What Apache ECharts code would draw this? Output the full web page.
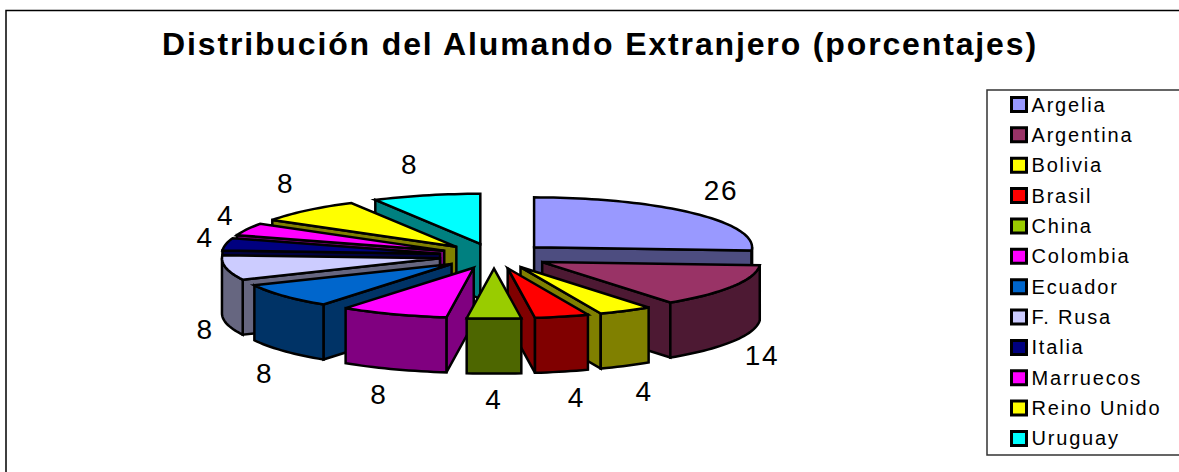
<!DOCTYPE html>
<html>
<head>
<meta charset="utf-8">
<style>
html, body { margin: 0; padding: 0; background: #fff; }
#main { width: 1179px; height: 472px; }
#main text { letter-spacing: 1.8px; }
#main text[style*="bold"] { letter-spacing: 1.86px; }
</style>
<script src="https://cdn.jsdelivr.net/npm/echarts@6/dist/echarts.min.js"></script>
</head>
<body>
<div id="main"></div>
<script>
const countries = ['Argelia', 'Argentina', 'Bolivia', 'Brasil', 'China', 'Colombia', 'Ecuador', 'F. Rusa', 'Italia', 'Marruecos', 'Reino Unido', 'Uruguay'];
const percentages = [26, 14, 4, 4, 4, 8, 8, 8, 4, 4, 8, 8];
const topColors = ['#9999FF', '#993366', '#FFFF00', '#FF0000', '#99CC00', '#FF00FF', '#0066CC', '#CCCCFF', '#000080', '#FF00FF', '#FFFF00', '#00FFFF'];
const sideColors = ['#4D4D80', '#4D1933', '#808000', '#800000', '#4D6600', '#800080', '#003366', '#666680', '#000040', '#800080', '#808000', '#008080'];
// hand nudges so the value labels land where Excel put them
const labelNudges = [[15, -10], [13, 6], [10, 10], [10, 8], [0, 8], [-8, 9], [-5, 11], [-3, 3], [-3, -3], [-5, -6], [-9, -14], [-12, -13]];

// fake 3D projection of the exploded pie
const pie = { cx: 494, cy: 256, rx: 218, ry: 50, depth: 55, explode: 55 };
const total = percentages.reduce((a, b) => a + b, 0);

let acc = 0;
const slices = percentages.map(v => {
    const start = acc / total * Math.PI * 2;
    acc += v;
    const end = acc / total * Math.PI * 2;
    return { start, end, mid: (start + end) / 2 };
});

function apexOf(s) {
    return [
        pie.cx + pie.explode * Math.sin(s.mid),
        pie.cy - pie.explode * pie.ry / pie.rx * Math.cos(s.mid)
    ];
}

function rimPoints(apex, from, to) {
    const pts = [];
    const n = Math.max(2, Math.ceil((to - from) / 0.03));
    for (let i = 0; i <= n; i++) {
        const a = from + (to - from) * i / n;
        pts.push([apex[0] + pie.rx * Math.sin(a), apex[1] - pie.ry * Math.cos(a)]);
    }
    return pts;
}

function lowered(pts) {
    return pts.map(p => [p[0], p[1] + pie.depth]).reverse();
}

function makeRenderItem(i) {
    const s = slices[i];
    const apex = apexOf(s);
    return function () {
        const rim = rimPoints(apex, s.start, s.end);
        const lineStyle = { stroke: '#000', lineWidth: 2.5, lineJoin: 'miter' };
        const poly = (points, fill) => ({
            type: 'polygon',
            shape: { points },
            style: Object.assign({ fill }, lineStyle)
        });
        const children = [];

        // radial cut faces, only those turned to the viewer
        const eps = 1e-6;
        if (Math.sin(s.start) < -eps) {
            const edge = [apex, rim[0]];
            children.push(poly(edge.concat(lowered(edge)), sideColors[i]));
        }
        if (Math.sin(s.end) > eps) {
            const edge = [apex, rim[rim.length - 1]];
            children.push(poly(edge.concat(lowered(edge)), sideColors[i]));
        }

        // rim wall, only the part that faces the viewer
        const from = Math.max(s.start, Math.PI / 2);
        const to = Math.min(s.end, Math.PI * 1.5);
        if (to > from) {
            const wall = rimPoints(apex, from, to);
            children.push(poly(wall.concat(lowered(wall)), sideColors[i]));
        }

        children.push(poly([apex].concat(rim), topColors[i]));

        const front = Math.cos(s.mid) < 0;
        children.push({
            type: 'text',
            z2: 100,
            style: {
                x: apex[0] + (pie.rx + 18) * Math.sin(s.mid) + labelNudges[i][0],
                y: apex[1] - (pie.ry + 18) * Math.cos(s.mid) + (front ? pie.depth : 0) + labelNudges[i][1],
                text: String(percentages[i]),
                fill: '#000',
                font: '28px "Liberation Sans", Arial, sans-serif',
                align: 'center',
                verticalAlign: 'middle'
            }
        });
        return { type: 'group', children };
    };
}

// back slices get painted first
const drawOrder = slices.map((s, i) => i).sort((a, b) => Math.cos(slices[b].mid) - Math.cos(slices[a].mid));

const series = countries.map((name, i) => ({
    type: 'custom',
    name: name,
    coordinateSystem: 'none',
    silent: true,
    z: 2 + drawOrder.indexOf(i),
    itemStyle: { color: topColors[i] },
    renderItem: makeRenderItem(i),
    data: [percentages[i]]
}));

const chart = echarts.init(document.getElementById('main'), null, { renderer: 'svg' });
chart.setOption({
    animation: false,
    backgroundColor: '#fff',
    title: {
        text: 'Distribución del Alumando Extranjero (porcentajes)',
        left: 162,
        top: 28,
        padding: 0,
        textStyle: {
            fontFamily: '"Liberation Sans", Arial, sans-serif',
            fontWeight: 'bold',
            fontSize: 32,
            color: '#000'
        }
    },
    legend: {
        data: countries,
        orient: 'vertical',
        left: 1010,
        top: 93,
        padding: 0,
        icon: 'rect',
        itemWidth: 15,
        itemHeight: 14,
        itemGap: 7.36,
        selectedMode: false,
        itemStyle: { borderColor: '#000', borderWidth: 3 },
        textStyle: {
            fontFamily: '"Liberation Sans", Arial, sans-serif',
            fontSize: 20,
            color: '#000',
            lineHeight: 23
        }
    },
    graphic: [
        {
            type: 'rect',
            silent: true,
            z: 0,
            shape: { x: 6, y: 10.5, width: 1300, height: 600 },
            style: { fill: 'none', stroke: '#000', lineWidth: 1.5 }
        },
        {
            type: 'rect',
            silent: true,
            z: 0,
            shape: { x: 987, y: 90, width: 300, height: 365 },
            style: { fill: 'none', stroke: '#333', lineWidth: 1.5 }
        }
    ],
    series: series
});
</script>
</body>
</html>
